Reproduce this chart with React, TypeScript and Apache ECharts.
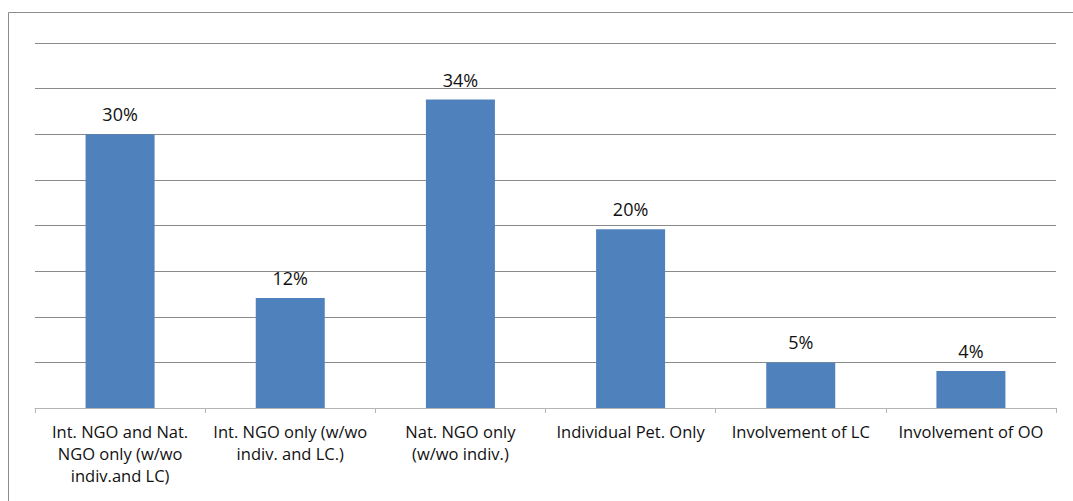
import React, { useEffect, useRef } from "react";
import * as echarts from "echarts";

const categories = [
  "Int. NGO and Nat.\nNGO only (w/wo\nindiv.and LC)",
  "Int. NGO only (w/wo\nindiv. and LC.)",
  "Nat. NGO only\n(w/wo indiv.)",
  "Individual Pet. Only",
  "Involvement of LC",
  "Involvement of OO",
];
const values = [30, 12.05, 33.8, 19.6, 5, 4.05];

export default function App() {
  const ref = useRef<HTMLDivElement>(null);
  useEffect(() => {
    const chart = echarts.init(ref.current!, null, { renderer: "svg" });
    chart.setOption({
      animation: false,
      backgroundColor: "#ffffff",
      textStyle: { fontFamily: "Open Sans" },
      graphic: [
        {
          type: "rect",
          shape: { x: 8.5, y: 12.5, width: 1200, height: 600 },
          style: { fill: "none", stroke: "#8c8c8c", lineWidth: 1 },
          silent: true,
        },
      ],
      grid: { left: 35, right: 17, top: 43, bottom: 93, containLabel: false },
      xAxis: {
        type: "category",
        data: categories,
        axisLine: { lineStyle: { color: "#b4b4b4", width: 1 } },
        axisTick: { show: true, length: 5, lineStyle: { color: "#b4b4b4" } },
        axisLabel: {
          color: "#111111",
          fontSize: 16.5,
          lineHeight: 22,
          margin: 12,
          interval: 0,
          fontFamily: "Open Sans",
        },
      },
      yAxis: {
        type: "value",
        min: 0,
        max: 40,
        interval: 5,
        axisLabel: { show: false },
        axisLine: { show: false },
        axisTick: { show: false },
        splitLine: { lineStyle: { color: "#8a8a8a", width: 1 } },
      },
      series: [
        {
          type: "bar",
          data: values,
          barWidth: 69,
          itemStyle: { color: "#4f81bd" },
          label: {
            show: true,
            position: "top",
            distance: 11,
            color: "#111111",
            fontSize: 18,
            fontFamily: "Open Sans",
            formatter: (p: any) => Math.round(p.value) + "%",
          },
        },
      ],
    });
    return () => chart.dispose();
  }, []);
  return (
    <div
      ref={ref}
      style={{ position: "absolute", left: 0, top: 0, width: 1073, height: 501 }}
    />
  );
}
